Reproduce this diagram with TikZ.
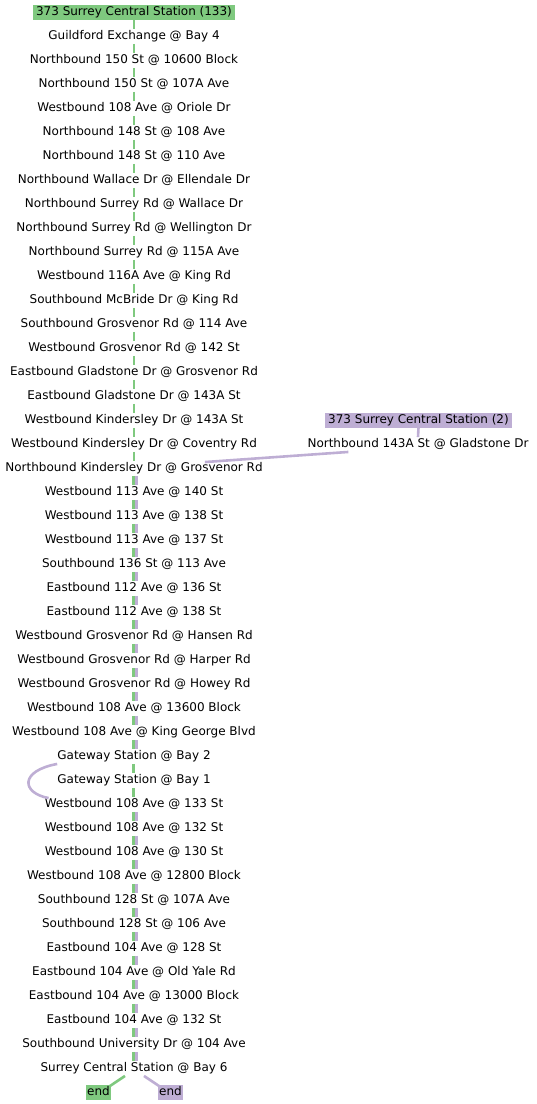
\documentclass[tikz,border=0pt]{standalone}
\usepackage{fontspec}
\setmainfont{DejaVu Sans}
\usetikzlibrary{calc}
\definecolor{grn}{HTML}{7FC97F}
\definecolor{prp}{HTML}{BEAED4}
\begin{document}
\begin{tikzpicture}[x=1pt,y=-1pt,
  every node/.style={font=\fontsize{12}{14}\selectfont},
  stop/.style={inner xsep=2pt, inner ysep=1pt, text height=9.5pt, text depth=3pt},
  ghead/.style={stop, fill=grn, inner xsep=3.5pt, inner ysep=1.25pt},
  phead/.style={stop, fill=prp, inner xsep=3.5pt, inner ysep=1.25pt},
  gline/.style={draw=grn, line width=2.6pt},
  pline/.style={draw=prp, line width=2.6pt}]
\useasboundingbox (0,0) rectangle (537,1104);
\node[ghead] (g0) at (134,12) {373 Surrey Central Station (133)};
\foreach \t [count=\i from 1] in {
Guildford Exchange @ Bay 4,
Northbound 150 St @ 10600 Block,
Northbound 150 St @ 107A Ave,
Westbound 108 Ave @ Oriole Dr,
Northbound 148 St @ 108 Ave,
Northbound 148 St @ 110 Ave,
Northbound Wallace Dr @ Ellendale Dr,
Northbound Surrey Rd @ Wallace Dr,
Northbound Surrey Rd @ Wellington Dr,
Northbound Surrey Rd @ 115A Ave,
Westbound 116A Ave @ King Rd,
Southbound McBride Dr @ King Rd,
Southbound Grosvenor Rd @ 114 Ave,
Westbound Grosvenor Rd @ 142 St,
Eastbound Gladstone Dr @ Grosvenor Rd,
Eastbound Gladstone Dr @ 143A St,
Westbound Kindersley Dr @ 143A St,
Westbound Kindersley Dr @ Coventry Rd,
Northbound Kindersley Dr @ Grosvenor Rd,
Westbound 113 Ave @ 140 St,
Westbound 113 Ave @ 138 St,
Westbound 113 Ave @ 137 St,
Southbound 136 St @ 113 Ave,
Eastbound 112 Ave @ 136 St,
Eastbound 112 Ave @ 138 St,
Westbound Grosvenor Rd @ Hansen Rd,
Westbound Grosvenor Rd @ Harper Rd,
Westbound Grosvenor Rd @ Howey Rd,
Westbound 108 Ave @ 13600 Block,
Westbound 108 Ave @ King George Blvd,
Gateway Station @ Bay 2,
Gateway Station @ Bay 1,
Westbound 108 Ave @ 133 St,
Westbound 108 Ave @ 132 St,
Westbound 108 Ave @ 130 St,
Westbound 108 Ave @ 12800 Block,
Southbound 128 St @ 107A Ave,
Southbound 128 St @ 106 Ave,
Eastbound 104 Ave @ 128 St,
Eastbound 104 Ave @ Old Yale Rd,
Eastbound 104 Ave @ 13000 Block,
Eastbound 104 Ave @ 132 St,
Southbound University Dr @ 104 Ave,
Surrey Central Station @ Bay 6}
  \node[stop] (g\i) at (134,12.5+24*\i) {\t};
\node[phead] (p0) at (418.5,420) {373 Surrey Central Station (2)};
\node[stop] (p1) at (418,444.5) {Northbound 143A St @ Gladstone Dr};
\node[ghead, inner xsep=1.5pt] (ge) at (98.5,1092) {end};
\node[phead, inner xsep=1.5pt] (pe) at (170.5,1092) {end};
% green route
\foreach \i [evaluate=\i as \j using int(\i+1)] in {0,...,18}
  \draw[gline] (g\i.south) -- (g\j.north);
\foreach \i [evaluate=\i as \j using int(\i+1)] in {19,...,43}
  \draw[gline] ([xshift=-0.8pt]g\i.south) -- ([xshift=-0.8pt]g\j.north);
\draw[gline] ($(g44.south)+(-9,0)$) -- ($(ge.north east)+(-2,2)$);
% purple route
\draw[pline] (p0.south) -- (p1.north);
\draw[pline] ($(p1.south west)+(43,0)$) -- ($(g19.north east)+(-60,1)$);
\foreach \i [evaluate=\i as \j using int(\i+1)] in {19,...,30,33,34,...,43}
  \draw[pline] ([xshift=2.3pt]g\i.south) -- ([xshift=2.3pt]g\j.north);
\draw[pline] ($(g31.south west)+(2,0)$) .. controls ($(g31.south west)+(-36,7)$) and ($(g33.north west)+(-21,-4)$) .. ($(g33.north west)+(6,1)$);
\draw[pline] ($(g44.south)+(10,0)$) -- ($(pe.north west)+(2,2)$);
\end{tikzpicture}
\end{document}
